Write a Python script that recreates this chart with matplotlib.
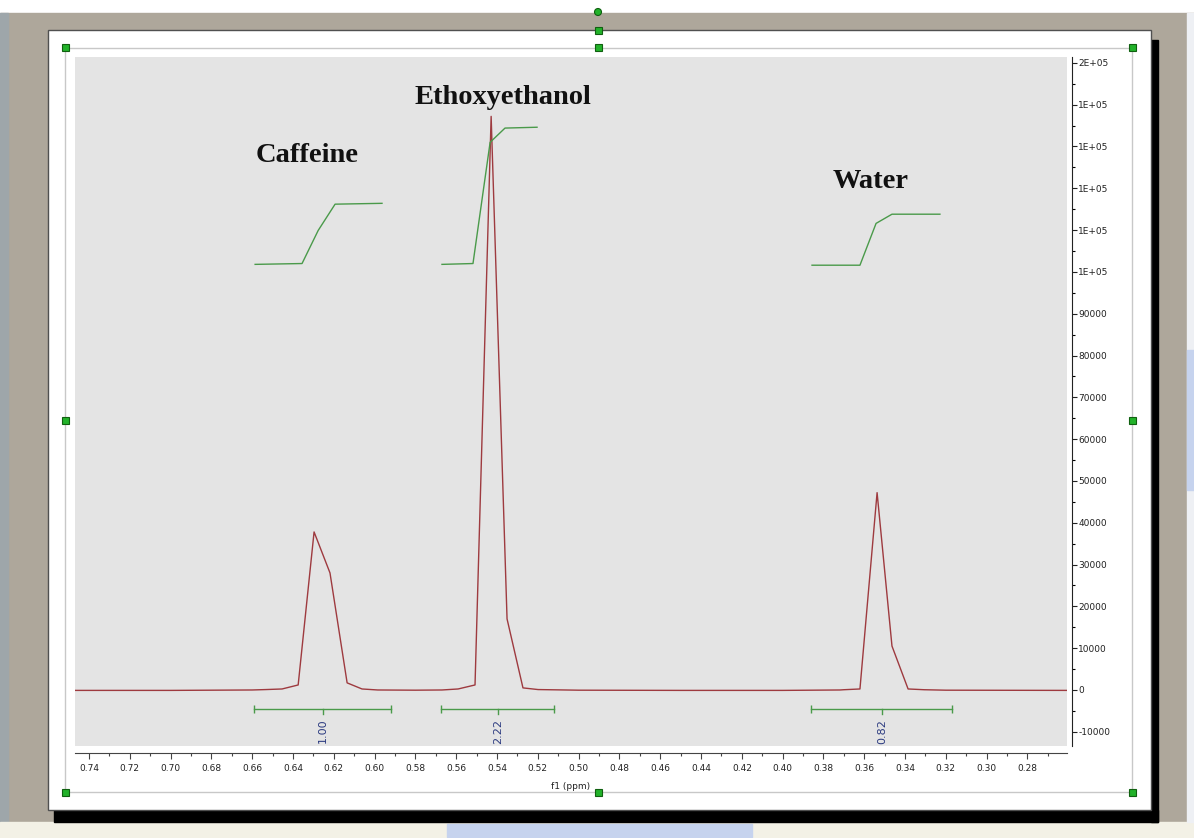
import numpy as np
import matplotlib
matplotlib.use('Agg')
import matplotlib.pyplot as plt
from matplotlib.patches import Rectangle, Circle
from matplotlib.ticker import MultipleLocator, FuncFormatter

# Espectro 1H (f1 en ppm, intensidad)
ppm = [0.7469, 0.70, 0.66, 0.6533, 0.6454, 0.6375, 0.6297, 0.6219, 0.6135, 0.6062,
       0.5985, 0.58, 0.5670, 0.5591, 0.5508, 0.5429, 0.5351, 0.5273, 0.5199, 0.50,
       0.45, 0.40, 0.3719, 0.3700, 0.3621, 0.3537, 0.3464, 0.3385, 0.3306, 0.32, 0.2606]
intensidad = [-100, -100, 0, 100, 240, 1200, 37800, 28000, 1700, 240,
              0, -50, 0, 240, 1200, 137200, 17000, 500, 100, -50,
              -100, -100, 0, 60, 240, 47200, 10500, 240, 60, -50, -100]

# Curvas de integral
int_caf_x = [0.6586, 0.6356, 0.6277, 0.6194, 0.5964]
int_caf_y = [101800, 102000, 109900, 116200, 116400]
int_eto_x = [0.5670, 0.5518, 0.5434, 0.5361, 0.5204]
int_eto_y = [101800, 102000, 131000, 134400, 134600]
int_agua_x = [0.3856, 0.3621, 0.3542, 0.3464, 0.3229]
int_agua_y = [101600, 101600, 111600, 113800, 113800]

# Rangos de integracion
rangos = [(0.6591, 0.5920, 0.6253, '1.00'),
          (0.5675, 0.5121, 0.5395, '2.22'),
          (0.3861, 0.3170, 0.3513, '0.82')]

compuestos = ['Caffeine', 'Ethoxyethanol', 'Water']
pos_compuestos = [(0.6331, 127900), (0.5371, 141800), (0.3567, 121700)]

W, H = 1194, 838
fig = plt.figure(figsize=(W / 100, H / 100), dpi=100)
fig.patch.set_facecolor('white')

# Fondo tipo pantalla (ventana del programa)
bg = fig.add_axes([0, 0, 1, 1], zorder=-5)
bg.set_xlim(0, W)
bg.set_ylim(H, 0)
bg.axis('off')
bg.add_patch(Rectangle((0, 13), W, 809, color='#aea79b'))
bg.add_patch(Rectangle((0, 13), 8, 809, color='#9ea6aa'))
bg.add_patch(Rectangle((0, 822), W, 16, color='#f3f1e6'))
bg.add_patch(Rectangle((447, 824), 305, 13, color='#c6d3ee'))
bg.add_patch(Rectangle((1187, 13), 7, 809, color='#eef0f4'))
bg.add_patch(Rectangle((1187, 350), 7, 140, color='#c6d3ee'))
bg.add_patch(Rectangle((1151, 40), 7, 782, color='black'))
bg.add_patch(Rectangle((54, 810), 1104, 12, color='black'))
bg.add_patch(Rectangle((48, 30), 1103, 780, facecolor='white', edgecolor='#505050', lw=1))
bg.add_patch(Rectangle((65, 48), 1067, 744, fill=False, edgecolor='#c8c8c8', lw=1))
for hx, hy in [(65, 48), (598, 48), (1132, 48), (65, 420), (1132, 420),
               (65, 792), (598, 792), (1132, 792), (598, 31)]:
    bg.add_patch(Rectangle((hx - 3.5, hy - 3.5), 7, 7, facecolor='#22b22a',
                           edgecolor='#106010', lw=0.8))
bg.add_patch(Circle((598, 12), 3.5, facecolor='#22b22a', edgecolor='#106010', lw=0.8))

# Area del espectro
ax = fig.add_axes([75 / W, 1 - 746 / H, 992 / W, 689 / H])
ax.set_facecolor('#e4e4e4')
ax.plot(ppm, intensidad, color='#9e3a3f', lw=1)
for xs, ys in [(int_caf_x, int_caf_y), (int_eto_x, int_eto_y), (int_agua_x, int_agua_y)]:
    ax.plot(xs, ys, color='#4a9a4a', lw=1)

for x0, x1, xc, etiqueta in rangos:
    ax.plot([x0, x1], [-4550, -4550], color='#4a9a4a', lw=1, marker='|', ms=6)
    ax.plot([xc, xc], [-4550, -5800], color='#4a9a4a', lw=1)
    ax.text(xc, -6900, etiqueta, rotation=90, ha='center', va='top',
            fontsize=8, color='#2b3a80')

for nombre, (xp, yp) in zip(compuestos, pos_compuestos):
    ax.text(xp, yp, nombre, ha='center', va='center', fontsize=20.5,
            fontweight='bold', family='Liberation Serif', color='#111111')

ax.set_xlim(0.7469, 0.2606)
ax.set_ylim(-13400, 151400)

for s in ['top', 'left']:
    ax.spines[s].set_visible(False)
ax.spines['bottom'].set_position(('outward', 5))
ax.spines['right'].set_position(('outward', 3.6))
ax.spines['bottom'].set_color('#444444')
ax.spines['right'].set_color('#222222')

ax.xaxis.set_major_locator(MultipleLocator(0.02))
ax.xaxis.set_minor_locator(MultipleLocator(0.01))
ax.xaxis.set_major_formatter(FuncFormatter(lambda v, p: '%.2f' % v))
ax.tick_params(axis='x', which='major', direction='out', length=4, width=0.8,
               labelsize=6.5, pad=4, colors='#444444', labelcolor='#222222')
ax.tick_params(axis='x', which='minor', direction='out', length=2, width=0.8,
               colors='#444444')

ax.yaxis.tick_right()
ax.yaxis.set_major_locator(MultipleLocator(10000))
ax.yaxis.set_minor_locator(MultipleLocator(5000))


def fmt_y(v, p):
    if abs(v) >= 100000:
        return '%.0E' % v
    return '%d' % v


ax.yaxis.set_major_formatter(FuncFormatter(fmt_y))
ax.tick_params(axis='y', which='major', direction='out', length=3.6, width=0.8,
               labelsize=6.5, pad=1, colors='#222222')
ax.tick_params(axis='y', which='minor', direction='out', length=2, width=0.8)

ax.set_xlabel('f1 (ppm)', fontsize=6.5, color='#222222')
ax.xaxis.set_label_coords(0.5, -0.052)

fig.savefig('out.png', dpi=100)
